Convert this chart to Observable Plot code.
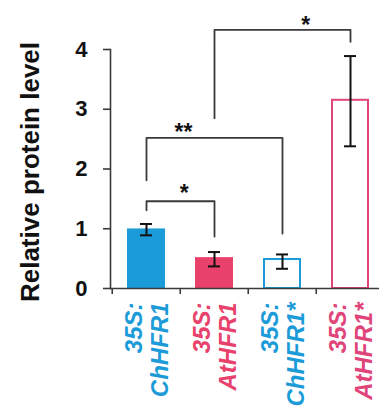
<!DOCTYPE html>
<html>
<head>
<meta charset="utf-8">
<script src="https://cdn.jsdelivr.net/npm/d3@7"></script>
<script src="https://cdn.jsdelivr.net/npm/@observablehq/plot@0.6"></script>
<style>
  html, body { margin: 0; padding: 0; background: #fff; }
  #chart svg { display: block; }
</style>
</head>
<body>
<div id="chart"></div>
<script>
// ---- data ----
const categories = ["35S:\nChHFR1", "35S:\nAtHFR1", "35S:\nChHFR1*", "35S:\nAtHFR1*"];
const values     = [0.98, 0.50, 0.485, 3.15];
const errLow     = [0.89, 0.37, 0.33, 2.38];
const errHigh    = [1.08, 0.61, 0.57, 3.89];
const filled     = [true, true, false, false];
const colors     = ["#1b9bd7", "#e8426c", "#1b9bd7", "#e0457a"];
const yTicks     = [0, 1, 2, 3, 4];

// significance brackets
const bracketFrom  = [categories[0], categories[0], categories[1]];
const bracketTo    = [categories[1], categories[2], categories[3]];
const bracketTop   = [1.46, 2.52, 4.33];
const bracketLeft  = [1.31, 1.81, 2.85];
const bracketRight = [0.87, 0.92, 4.13];
const starLabels   = ["*", "**", "*"];
const starY        = [1.69, 2.71, 4.50];
const starAnchor   = [categories[0], categories[0], categories[2]];
const starShift    = [0.55, 0.54, 0.34]; // fraction of a band step

// ---- layout ----
const W = 379, H = 407;
const xRange = [111, 385];
const step = (xRange[1] - xRange[0]) / categories.length;
const font = "Liberation Sans, Arial, Helvetica, sans-serif";
const axisColor = "#3a3a3a";

const bars = categories.map((c, i) => ({
  cat: c, value: values[i], lo: errLow[i], hi: errHigh[i],
  fill: filled[i] ? colors[i] : "white", color: colors[i]
}));

const bracketPts = [];
bracketFrom.forEach((f, i) => {
  bracketPts.push({k: i, x: f, y: bracketLeft[i]});
  bracketPts.push({k: i, x: f, y: bracketTop[i]});
  bracketPts.push({k: i, x: bracketTo[i], y: bracketTop[i]});
  bracketPts.push({k: i, x: bracketTo[i], y: bracketRight[i]});
});

const starMarks = starLabels.map((s, i) =>
  Plot.text([{x: starAnchor[i], y: starY[i], t: s}], {
    x: "x", y: "y", text: "t", dx: starShift[i] * step, dy: 6,
    fontSize: 23, fontWeight: "bold", fill: "#111", fontFamily: font,
    lineAnchor: "middle"
  })
);

const chart = Plot.plot({
  width: W, height: H,
  marginLeft: 110, marginRight: 0, marginTop: 49, marginBottom: H - 288,
  style: {fontFamily: font, background: "white"},
  x: {type: "band", domain: categories, range: xRange, paddingInner: 0.47, paddingOuter: 0.235, axis: null},
  y: {domain: [0, 4], axis: null},
  color: {type: "identity"},
  marks: [
    Plot.barY(bars, {x: "cat", y: "value", fill: "fill", stroke: "color", strokeWidth: 2}),
    Plot.ruleX(bars, {x: "cat", y1: "lo", y2: "hi", stroke: "#111", strokeWidth: 2}),
    Plot.tickY(bars, {x: "cat", y: "lo", insetLeft: 12, insetRight: 12, stroke: "#111", strokeWidth: 2}),
    Plot.tickY(bars, {x: "cat", y: "hi", insetLeft: 12, insetRight: 12, stroke: "#111", strokeWidth: 2}),
    Plot.line(bracketPts, {x: "x", y: "y", z: "k", stroke: "#3a3a3a", strokeWidth: 1.8, curve: "linear"}),
    ...starMarks,
    // axes
    Plot.frame({anchor: "left", stroke: axisColor, strokeWidth: 1.6}),
    Plot.ruleY([0], {stroke: axisColor, strokeWidth: 1.6}),
    Plot.axisY({ticks: yTicks, tickSize: 7, tickPadding: 16, tickFormat: d3.format("d"),
      fontSize: 22, fontWeight: "bold", stroke: axisColor, strokeWidth: 1.6, fill: "#111", label: null}),
    Plot.axisX({tickSize: 6, tickFormat: () => "", dx: -step / 2, stroke: axisColor, strokeWidth: 1.6, label: null}),
    Plot.text(bars, {x: "cat", text: "cat", frameAnchor: "bottom", dy: 14, rotate: -90,
      textAnchor: "end", lineAnchor: "middle", lineHeight: 1.08, fill: "color",
      fontSize: 24, fontWeight: "bold", fontStyle: "italic", fontFamily: font}),
    Plot.text(["Relative protein level"], {text: d => d, frameAnchor: "left", rotate: -90, dx: -80, dy: 3,
      textAnchor: "middle", lineAnchor: "middle", fontSize: 26, fontWeight: "bold", fill: "#111", fontFamily: font})
  ]
});
document.getElementById("chart").appendChild(chart);
</script>
</body>
</html>
